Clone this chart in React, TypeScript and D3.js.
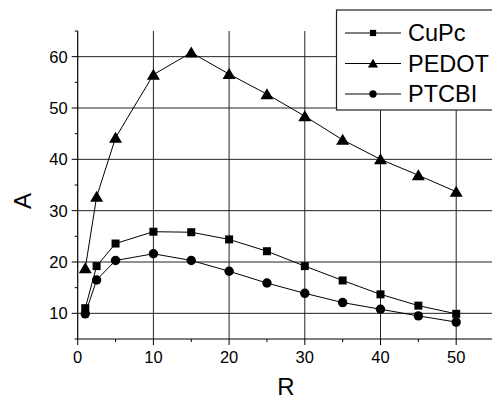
import React from "react";
import * as d3 from "d3";

const W = 492;
const H = 401;
const Margin = { top: 31, right: 0, bottom: 62, left: 77.7 };

const R_VALUES = [1, 2.5, 5, 10, 15, 20, 25, 30, 35, 40, 45, 50];
const CUPC = [11.0, 19.2, 23.6, 25.9, 25.8, 24.4, 22.1, 19.2, 16.4, 13.7, 11.5, 9.9];
const PEDOT = [18.8, 32.7, 44.2, 56.5, 60.8, 56.6, 52.7, 48.4, 43.8, 40.0, 36.9, 33.7];
const PTCBI = [9.9, 16.5, 20.3, 21.6, 20.3, 18.2, 15.9, 13.9, 12.1, 10.8, 9.5, 8.3];

const SERIES_NAMES = ["CuPc", "PEDOT", "PTCBI"];
const SERIES_VALUES = [CUPC, PEDOT, PTCBI];
const SERIES_SHAPES = ["square", "triangle", "circle"];

const X_TICKS = [0, 10, 20, 30, 40, 50];
const Y_TICKS = [10, 20, 30, 40, 50, 60];
const X_MINOR = [5, 15, 25, 35, 45, 55];
const Y_MINOR = [5, 15, 25, 35, 45, 55, 65];

const FONT = "'Liberation Sans', Arial, sans-serif";

const Marker = ({ shape, x, y, s = 1 }: { shape: string; x: number; y: number; s?: number }) => {
  if (shape === "square") {
    return <rect x={x - 4 * s} y={y - 4 * s} width={8 * s} height={8 * s} fill="black" />;
  }
  if (shape === "triangle") {
    const pts = [
      [x, y - 6 * s],
      [x + 6.5 * s, y + 5 * s],
      [x - 6.5 * s, y + 5 * s],
    ];
    return <polygon points={pts.map((p) => p.join(",")).join(" ")} fill="black" />;
  }
  return <circle cx={x} cy={y} r={4.7 * s} fill="black" />;
};

const App = () => {
  const xScale = d3.scaleLinear().domain([0, 55]).range([Margin.left, Margin.left + 55 * 7.57]);
  const yScale = d3.scaleLinear().domain([5, 65]).range([H - Margin.bottom, Margin.top]);
  const x0 = xScale(0);
  const yBottom = yScale(5);

  const line = d3
    .line<number>()
    .x((_, i) => xScale(R_VALUES[i]))
    .y((d) => yScale(d));

  return (
    <svg
      width={W}
      height={H}
      style={{ position: "absolute", left: 0, top: 0, background: "white" }}
      fontFamily={FONT}
    >
      {/* grid */}
      {X_TICKS.filter((t) => t > 0).map((t) => (
        <line key={"gx" + t} x1={xScale(t)} x2={xScale(t)} y1={yScale(65)} y2={yBottom} stroke="#222" strokeWidth={1} />
      ))}
      {Y_TICKS.map((t) => (
        <line key={"gy" + t} x1={x0} x2={W} y1={yScale(t)} y2={yScale(t)} stroke="#222" strokeWidth={1} />
      ))}

      {/* axes */}
      <line x1={x0} x2={x0} y1={yScale(65)} y2={yBottom} stroke="black" strokeWidth={1.2} />
      <line x1={x0} x2={W} y1={yBottom} y2={yBottom} stroke="black" strokeWidth={1.2} />
      {Y_TICKS.map((t) => (
        <g key={"yt" + t}>
          <line x1={x0 - 6} x2={x0} y1={yScale(t)} y2={yScale(t)} stroke="black" />
          <text x={x0 - 10} y={yScale(t)} dy="0.36em" textAnchor="end" fontSize={16.5}>
            {t}
          </text>
        </g>
      ))}
      {Y_MINOR.map((t) => (
        <line key={"ym" + t} x1={x0 - 3} x2={x0} y1={yScale(t)} y2={yScale(t)} stroke="black" />
      ))}
      {X_TICKS.map((t) => (
        <g key={"xt" + t}>
          <line x1={xScale(t)} x2={xScale(t)} y1={yBottom} y2={yBottom + 6} stroke="black" />
          <text x={xScale(t)} y={yBottom + 24} textAnchor="middle" fontSize={16.5}>
            {t}
          </text>
        </g>
      ))}
      {X_MINOR.map((t) => (
        <line key={"xm" + t} x1={xScale(t)} x2={xScale(t)} y1={yBottom} y2={yBottom + 3} stroke="black" />
      ))}

      {/* axis titles */}
      <text x={286} y={395} textAnchor="middle" fontSize={24}>
        R
      </text>
      <text transform="translate(31,201) rotate(-90)" textAnchor="middle" fontSize={24}>
        A
      </text>

      {/* series */}
      {SERIES_VALUES.map((vals, si) => (
        <g key={SERIES_NAMES[si]}>
          <path d={line(vals) || ""} fill="none" stroke="black" strokeWidth={1} />
          {vals.map((v, i) => (
            <Marker key={i} shape={SERIES_SHAPES[si]} x={xScale(R_VALUES[i])} y={yScale(v)} />
          ))}
        </g>
      ))}

      {/* legend */}
      <g>
        <rect x={336.5} y={10} width={170} height={100} fill="white" stroke="#222" strokeWidth={1.2} />
        {SERIES_NAMES.map((name, i) => {
          const ly = 33 + i * 30.5;
          return (
            <g key={name}>
              <line x1={345} x2={401} y1={ly} y2={ly} stroke="black" />
              <Marker shape={SERIES_SHAPES[i]} x={373} y={ly} s={0.78} />
              <text x={408} y={ly} dy="0.36em" fontSize={23.5}>
                {name}
              </text>
            </g>
          );
        })}
      </g>
    </svg>
  );
};

export default App;
